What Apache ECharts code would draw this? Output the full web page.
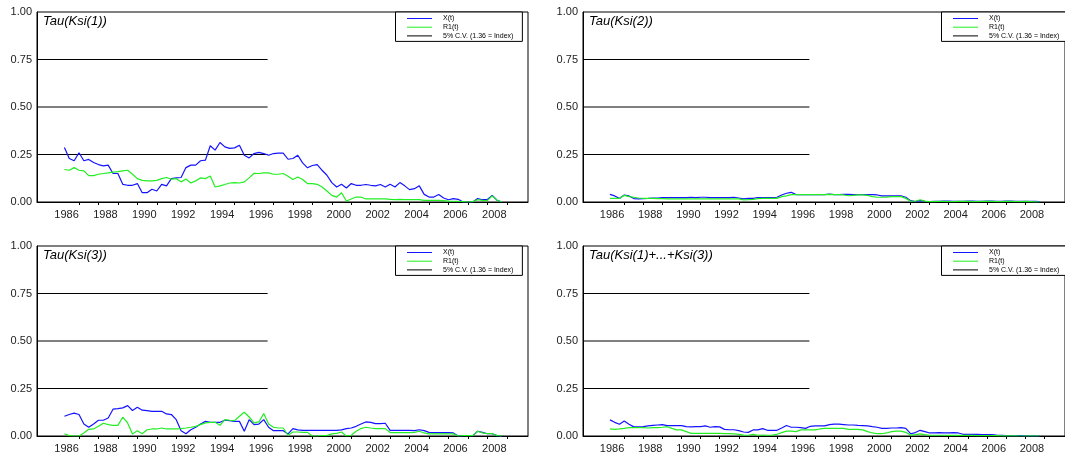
<!DOCTYPE html>
<html>
<head>
<meta charset="utf-8">
<script src="https://cdn.jsdelivr.net/npm/echarts@6/dist/echarts.min.js"></script>
<style>html,body{margin:0;padding:0;background:#fff;}#c{width:1065px;height:459px;}</style>
</head>
<body>
<div id="c"></div>
<script>
// ---- data (quarterly, first observation 1986.25) ----
const startDate = 1986.25;
const step = 0.25;
const panelTitles = ['Tau(Ksi(1))', 'Tau(Ksi(2))', 'Tau(Ksi(3))', 'Tau(Ksi(1)+...+Ksi(3))'];
const seriesNames = ['X(t)', 'R1(t)', '5% C.V. (1.36 = Index)'];
const tickYears = [1987,1988,1989,1990,1991,1992,1993,1994,1995,1996,1997,1998,1999,2000,2001,2002,2003,2004,2005,2006,2007,2008,2009];
const labelYears = [1986,1988,1990,1992,1994,1996,1998,2000,2002,2004,2006,2008];
const yTicks = [0, 0.25, 0.5, 0.75, 1];
const cvLevels = [0.25, 0.5, 0.75];
const cvEnd = 1996.7;

const ksi1X = [0.287,0.229,0.217,0.259,0.217,0.224,0.208,0.197,0.190,0.194,
0.150,0.150,0.093,0.088,0.088,0.097,0.049,0.049,0.067,0.058,
0.093,0.085,0.123,0.127,0.129,0.181,0.194,0.194,0.217,0.220,
0.296,0.273,0.313,0.290,0.282,0.285,0.299,0.246,0.232,0.255,
0.261,0.255,0.246,0.255,0.257,0.257,0.225,0.229,0.246,0.206,
0.180,0.192,0.197,0.167,0.141,0.102,0.079,0.093,0.074,0.097,
0.088,0.088,0.092,0.088,0.085,0.092,0.079,0.093,0.079,0.102,
0.085,0.065,0.070,0.085,0.040,0.026,0.026,0.039,0.021,0.012,
0.018,0.014,0.000,0.000,0.000,0.018,0.012,0.014,0.035,0.009,
0.000];
const ksi1R = [0.171,0.167,0.181,0.167,0.164,0.139,0.139,0.146,0.150,0.153,
0.157,0.160,0.164,0.167,0.146,0.123,0.114,0.111,0.111,0.114,
0.123,0.129,0.120,0.123,0.106,0.121,0.100,0.111,0.127,0.123,
0.137,0.079,0.085,0.092,0.100,0.102,0.100,0.106,0.127,0.151,
0.150,0.153,0.153,0.146,0.146,0.150,0.136,0.118,0.132,0.118,
0.097,0.097,0.093,0.079,0.058,0.035,0.026,0.049,0.005,0.016,
0.026,0.026,0.016,0.016,0.016,0.016,0.016,0.014,0.012,0.014,
0.012,0.012,0.012,0.012,0.009,0.009,0.009,0.009,0.007,0.005,
0.004,0.004,0.002,0.000,0.002,0.012,0.009,0.007,0.032,0.009,
0.000];
const ksi2X = [0.040,0.032,0.019,0.037,0.032,0.018,0.016,0.018,0.019,0.021,
0.021,0.023,0.023,0.023,0.023,0.023,0.023,0.025,0.023,0.025,
0.025,0.023,0.023,0.023,0.023,0.023,0.025,0.021,0.016,0.019,
0.019,0.023,0.023,0.023,0.023,0.025,0.037,0.046,0.051,0.039,
0.039,0.039,0.039,0.039,0.039,0.039,0.042,0.039,0.039,0.040,
0.040,0.039,0.039,0.039,0.039,0.039,0.037,0.032,0.032,0.032,
0.033,0.033,0.025,0.007,0.002,0.007,0.004,0.002,0.003,0.004,
0.005,0.005,0.004,0.003,0.004,0.005,0.005,0.004,0.004,0.005,
0.005,0.004,0.004,0.005,0.005,0.004,0.003,0.004,0.004,0.003,
0.002];
const ksi2R = [0.019,0.019,0.019,0.035,0.028,0.025,0.021,0.019,0.019,0.019,
0.018,0.018,0.016,0.016,0.016,0.016,0.016,0.016,0.016,0.016,
0.016,0.016,0.016,0.016,0.016,0.016,0.016,0.016,0.011,0.012,
0.014,0.018,0.019,0.019,0.019,0.019,0.028,0.032,0.039,0.039,
0.039,0.039,0.039,0.039,0.039,0.039,0.040,0.039,0.039,0.037,
0.033,0.035,0.037,0.037,0.035,0.028,0.025,0.025,0.026,0.028,
0.028,0.028,0.019,0.004,0.004,0.012,0.005,0.002,0.002,0.003,
0.003,0.002,0.002,0.003,0.003,0.003,0.002,0.002,0.003,0.003,
0.003,0.002,0.002,0.003,0.003,0.002,0.002,0.003,0.002,0.001,
0.000];
const ksi3X = [0.104,0.113,0.120,0.113,0.063,0.046,0.063,0.083,0.083,0.095,
0.141,0.144,0.148,0.160,0.134,0.151,0.136,0.134,0.130,0.130,
0.130,0.116,0.113,0.086,0.028,0.012,0.033,0.046,0.063,0.077,
0.072,0.072,0.072,0.083,0.081,0.077,0.077,0.025,0.086,0.060,
0.063,0.086,0.046,0.028,0.028,0.028,0.011,0.039,0.032,0.030,
0.030,0.030,0.030,0.030,0.030,0.030,0.030,0.032,0.039,0.042,
0.051,0.063,0.074,0.072,0.065,0.065,0.067,0.030,0.030,0.030,
0.030,0.030,0.028,0.033,0.028,0.019,0.018,0.018,0.018,0.018,
0.016,0.000,0.002,0.002,0.002,0.025,0.019,0.012,0.012,0.002,
0.000];
const ksi3R = [0.012,0.002,0.000,0.000,0.016,0.035,0.037,0.051,0.067,0.060,
0.056,0.056,0.099,0.069,0.011,0.028,0.012,0.033,0.037,0.037,
0.042,0.037,0.037,0.037,0.039,0.042,0.046,0.051,0.060,0.069,
0.072,0.072,0.056,0.086,0.083,0.081,0.104,0.125,0.100,0.069,
0.074,0.118,0.063,0.046,0.042,0.042,0.004,0.021,0.021,0.019,
0.019,0.000,0.000,0.002,0.002,0.011,0.014,0.021,0.000,0.004,
0.025,0.039,0.046,0.042,0.039,0.039,0.039,0.018,0.018,0.018,
0.018,0.018,0.019,0.025,0.016,0.011,0.011,0.011,0.011,0.011,
0.011,0.000,0.002,0.002,0.002,0.025,0.016,0.012,0.012,0.002,
0.000];
const ksiSumX = [0.085,0.072,0.062,0.079,0.062,0.048,0.048,0.049,0.053,0.056,
0.058,0.060,0.055,0.055,0.055,0.055,0.049,0.048,0.049,0.049,
0.053,0.046,0.049,0.048,0.035,0.033,0.033,0.028,0.021,0.019,
0.032,0.032,0.039,0.030,0.030,0.030,0.042,0.055,0.046,0.046,
0.044,0.040,0.051,0.053,0.053,0.053,0.060,0.062,0.062,0.060,
0.058,0.058,0.056,0.055,0.053,0.049,0.046,0.040,0.040,0.042,
0.042,0.044,0.040,0.012,0.018,0.030,0.023,0.016,0.016,0.018,
0.016,0.016,0.018,0.016,0.009,0.009,0.009,0.009,0.007,0.007,
0.007,0.005,0.004,0.002,0.002,0.002,0.002,0.000,0.002,0.000,
0.000];
const ksiSumR = [0.037,0.035,0.037,0.040,0.044,0.044,0.044,0.044,0.042,0.044,
0.044,0.046,0.049,0.040,0.032,0.032,0.023,0.014,0.014,0.014,
0.014,0.014,0.014,0.014,0.012,0.012,0.011,0.009,0.005,0.004,
0.009,0.004,0.005,0.004,0.005,0.009,0.018,0.026,0.026,0.023,
0.032,0.032,0.032,0.032,0.037,0.040,0.040,0.040,0.040,0.040,
0.035,0.035,0.035,0.032,0.023,0.016,0.012,0.012,0.016,0.023,
0.026,0.026,0.019,0.005,0.007,0.011,0.007,0.004,0.004,0.004,
0.004,0.003,0.003,0.003,0.003,0.003,0.003,0.002,0.002,0.002,
0.002,0.002,0.001,0.001,0.001,0.001,0.000,0.000,0.001,0.000,
0.000];

const panelX = [ksi1X, ksi2X, ksi3X, ksiSumX];
const panelR = [ksi1R, ksi2R, ksi3R, ksiSumR];

// ---- layout / style ----
const FONT = '"Liberation Sans", Arial, Helvetica, sans-serif';
const X_MIN = 1984.84, X_MAX = 2010.09;
const LABEL_SHIFT = 0.36;
const grids = [
  {left: 37, top: 12, width: 491, height: 190},
  {left: 583, top: 12, width: 491, height: 190},
  {left: 37, top: 246, width: 491, height: 190},
  {left: 583, top: 246, width: 491, height: 190}
];
const BLUE = '#1414ff', GREEN = '#22ee22';

function toXY(vals) {
  return vals.map((v, i) => [startDate + i * step, v]);
}

const option = {
  animation: false,
  backgroundColor: '#fff',
  grid: grids.map(g => Object.assign({show: true, borderColor: '#000', borderWidth: 1, backgroundColor: 'transparent'}, g)),
  title: grids.map((g, i) => ({
    text: panelTitles[i], left: g.left + 6, top: g.top + 3, padding: 0,
    textStyle: {fontFamily: FONT, fontStyle: 'italic', fontWeight: 'normal', fontSize: 13, color: '#000'}
  })),
  legend: grids.map((g, i) => ({
    data: seriesNames, left: g.left + 358.5, top: g.top, orient: 'vertical',
    itemWidth: 25, itemHeight: 8, itemGap: 1.7, padding: [3, 9, 2, 11],
    borderColor: '#000', borderWidth: 1, backgroundColor: '#fff', selectedMode: false,
    itemStyle: {opacity: 0},
    lineStyle: {width: 1},
    textStyle: {fontFamily: FONT, fontSize: 7, color: '#000', padding: [0, 0, 0, 6]}
  })),
  xAxis: grids.map((g, i) => ({
    type: 'value', gridIndex: i, min: X_MIN, max: X_MAX,
    axisLine: {show: true, onZero: false, lineStyle: {color: '#000', width: 1}},
    axisTick: {show: true, inside: false, length: 3, customValues: tickYears, lineStyle: {color: '#000'}},
    axisLabel: {customValues: labelYears.map(y => y + LABEL_SHIFT), formatter: v => String(Math.floor(v + 1e-6)),
      fontFamily: FONT, fontSize: 11, color: '#222', margin: 7},
    splitLine: {show: false}
  })),
  yAxis: grids.map((g, i) => ({
    type: 'value', gridIndex: i, min: yTicks[0], max: yTicks[yTicks.length - 1], interval: yTicks[1] - yTicks[0],
    axisLine: {show: true, lineStyle: {color: '#000', width: 1}},
    axisTick: {show: false},
    axisLabel: {formatter: v => v.toFixed(2), fontFamily: FONT, fontSize: 11, color: '#222', margin: 5},
    splitLine: {show: false}
  })),
  series: []
};

grids.forEach((g, i) => {
  option.series.push({
    name: seriesNames[0], type: 'line', xAxisIndex: i, yAxisIndex: i, data: toXY(panelX[i]),
    symbol: 'none', lineStyle: {color: BLUE, width: 1.2}, itemStyle: {color: BLUE}, z: 3
  });
  option.series.push({
    name: seriesNames[1], type: 'line', xAxisIndex: i, yAxisIndex: i, data: toXY(panelR[i]),
    symbol: 'none', lineStyle: {color: GREEN, width: 1.2}, itemStyle: {color: GREEN}, z: 4
  });
  cvLevels.forEach(lv => {
    option.series.push({
      name: seriesNames[2], type: 'line', xAxisIndex: i, yAxisIndex: i, data: [[X_MIN, lv], [cvEnd, lv]],
      symbol: 'none', lineStyle: {color: '#000', width: 1}, itemStyle: {color: '#000'}, z: 2
    });
  });
});

const chart = echarts.init(document.getElementById('c'), null, {renderer: 'canvas'});
chart.setOption(option);
</script>
</body>
</html>
